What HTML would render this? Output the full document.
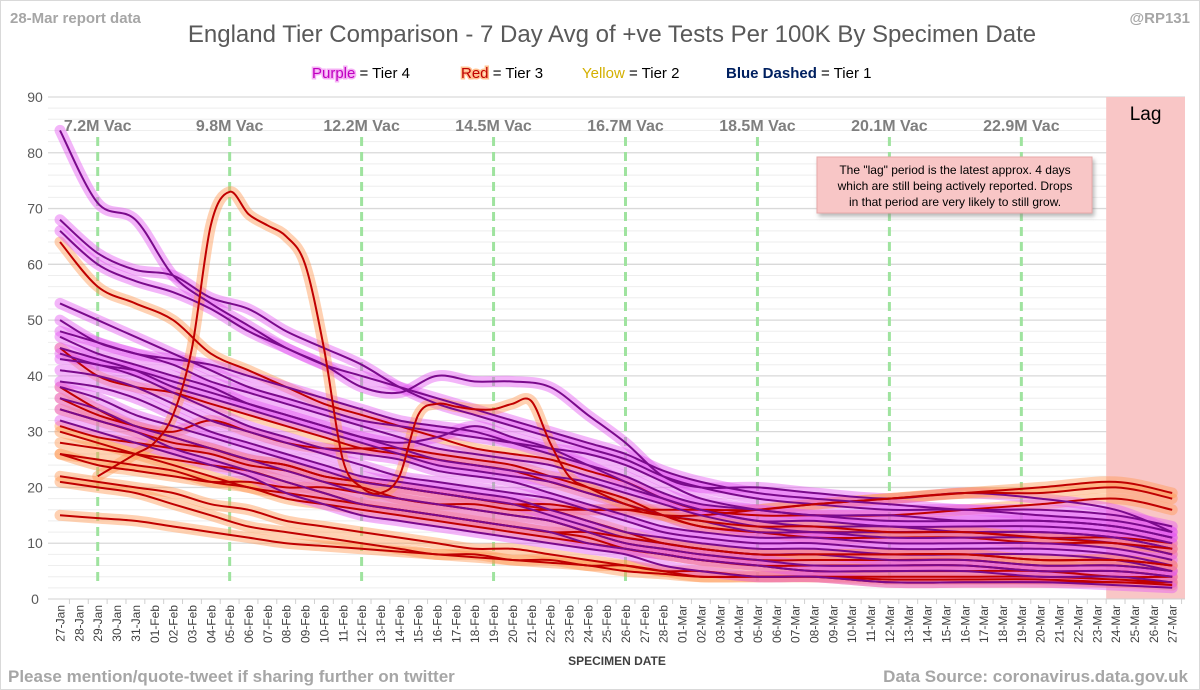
<!DOCTYPE html>
<html><head><meta charset="utf-8"><style>
html,body{margin:0;padding:0;background:#fff;}
svg{display:block;font-family:"Liberation Sans",sans-serif;}
</style></head><body>
<svg id="chart" width="1200" height="690" viewBox="0 0 1200 690" xmlns="http://www.w3.org/2000/svg">
<defs>
<filter id="sh" x="-10%" y="-10%" width="130%" height="140%"><feDropShadow dx="2" dy="3" stdDeviation="2" flood-color="#888" flood-opacity="0.6"/></filter>
</defs>
<rect x="0.5" y="0.5" width="1199" height="689" fill="#fff" stroke="#d9d9d9"/>
<text x="10" y="23" font-size="15" font-weight="bold" fill="#a6a6a6">28-Mar report data</text>
<text x="1190" y="23" font-size="15" font-weight="bold" fill="#a6a6a6" text-anchor="end">@RP131</text>
<text x="612" y="42" font-size="24" fill="#595959" text-anchor="middle">England Tier Comparison - 7 Day Avg of +ve Tests Per 100K By Specimen Date</text>
<g id="legend" font-size="15">
<text x="312" y="78"><tspan fill="#c000c0" style="paint-order:stroke" stroke="#f5b0f5" stroke-width="3">Purple</tspan><tspan fill="#000"> = Tier 4</tspan></text>
<text x="461" y="78"><tspan fill="#c00000" style="paint-order:stroke" stroke="#ffc090" stroke-width="3">Red</tspan><tspan fill="#000"> = Tier 3</tspan></text>
<text x="582" y="78"><tspan fill="#d4b000">Yellow</tspan><tspan fill="#000"> = Tier 2</tspan></text>
<text x="726" y="78"><tspan fill="#002060" font-weight="bold">Blue Dashed</tspan><tspan fill="#000"> = Tier 1</tspan></text>
</g>
<g id="grid"></g>
<g id="lag"></g>
<g id="vac"></g>
<g id="glow"></g>
<g id="lines"></g>
<g id="yaxis"></g>
<g id="xaxis"></g>
<g font-size="12" fill="#000" text-anchor="middle">
<rect x="817" y="157" width="275" height="56" fill="#f8c6c6" stroke="#e8a8a8" filter="url(#sh)"/>
<text x="955" y="174">The "lag" period is the latest approx. 4 days</text>
<text x="955" y="190">which are still being actively reported. Drops</text>
<text x="955" y="206">in that period are very likely to still grow.</text>
</g>
<text x="617" y="665" font-size="12" font-weight="bold" fill="#404040" text-anchor="middle">SPECIMEN DATE</text>
<text x="8" y="682" font-size="17" font-weight="bold" fill="#a6a6a6">Please mention/quote-tweet if sharing further on twitter</text>
<text x="1188" y="682" font-size="17" font-weight="bold" fill="#a6a6a6" text-anchor="end">Data Source: coronavirus.data.gov.uk</text>
</svg>
<script>
const dateLabels = ["27-Jan","28-Jan","29-Jan","30-Jan","31-Jan","01-Feb","02-Feb","03-Feb","04-Feb","05-Feb","06-Feb","07-Feb","08-Feb","09-Feb","10-Feb","11-Feb","12-Feb","13-Feb","14-Feb","15-Feb","16-Feb","17-Feb","18-Feb","19-Feb","20-Feb","21-Feb","22-Feb","23-Feb","24-Feb","25-Feb","26-Feb","27-Feb","28-Feb","01-Mar","02-Mar","03-Mar","04-Mar","05-Mar","06-Mar","07-Mar","08-Mar","09-Mar","10-Mar","11-Mar","12-Mar","13-Mar","14-Mar","15-Mar","16-Mar","17-Mar","18-Mar","19-Mar","20-Mar","21-Mar","22-Mar","23-Mar","24-Mar","25-Mar","26-Mar","27-Mar"];
const yTicks = [0,10,20,30,40,50,60,70,80,90];
const vacDays = [2,9,16,23,30,37,44,51];
const vacLabels = ["7.2M Vac","9.8M Vac","12.2M Vac","14.5M Vac","16.7M Vac","18.5M Vac","20.1M Vac","22.9M Vac"];
const lagStartDay = 55.5;
const sampleDays = [0,2,4,6,8,10,12,14,16,18,20,22,24,26,28,30,32,34,37,40,44,48,52,56,59];
const purpleSeries = [
[84,71,68,58,53,49,45,42,38,37,40,39,39,38,33,28,22,20,20,19,18,19,18,16,12],
[68,62,59,58,54,52,48,45,42,38,35,33,31,29,27,25,22,20,18,17,16,16,15,14,12],
[66,60,57,55,52,48,45,42,40,38,36,34,32,30,28,26,23,21,19,18,17,16,16,15,13],
[53,50,47,44,41,38,36,34,32,31,30,29,28,27,26,24,21,18,16,15,14,14,14,13,11],
[50,46,44,42,39,37,35,33,31,29,27,26,25,24,22,20,18,16,14,14,13,13,13,12,10],
[47,44,42,40,38,35,33,31,29,27,25,24,23,22,21,19,17,15,13,12,12,12,12,11,9],
[45,43,41,38,36,34,32,30,28,26,24,23,22,21,19,17,15,14,12,12,11,11,11,10,8],
[43,42,40,37,34,31,29,27,26,25,23,22,21,19,17,15,13,12,11,11,10,10,10,9,7],
[41,40,38,35,32,30,28,26,24,22,21,20,19,18,16,14,12,11,10,10,9,9,9,8,6],
[39,38,36,33,30,28,26,24,22,21,20,19,18,16,14,12,11,10,9,9,8,8,8,7,5],
[38,36,33,31,29,27,25,23,21,20,19,18,17,15,13,11,10,9,8,8,7,7,6,6,5],
[36,34,31,29,27,25,23,21,19,18,17,16,15,14,12,10,9,8,7,6,6,6,5,5,4],
[34,32,30,27,25,23,21,19,17,16,15,14,13,12,10,9,8,7,6,5,5,5,4,4,3],
[32,30,28,26,24,22,19,17,15,14,13,12,11,10,9,8,6,5,4,4,3,3,3,2.5,2],
[44,42,41,39,37,35,33,31,29,28,29,31,29,27,24,21,18,16,14,13,13,12,12,11,9],
[48,46,44,43,42,40,38,36,34,32,31,30,28,26,24,22,19,17,16,15,15,14,14,13,11]
];
const redSeries = [
[64,56,53,50,44,41,38,35,33,31,29,27,26,25,23,21,18,16,15,15,15,16,17,18,16],
[26,24,23,22,21,21,20,20,19,18,17,17,16,16,16,16,16,16,16,17,18,19,19,20,18],
[36,33,31,29,27,25,24,22,21,20,19,18,17,17,16,16,15,15,16,17,18,19,20,21,19],
[45,40,38,37,35,33,31,29,27,26,25,24,23,21,19,17,15,13,12,12,12,12,11,11,10],
[38,34,31,30,32,30,28,27,27,27,26,25,24,22,20,18,15,13,12,11,11,11,10,10,8],
[34,32,30,28,27,25,24,22,21,20,19,18,17,16,14,12,10,9,8,8,8,8,7,7,6],
[31,29,28,27,26,24,23,21,20,18,17,16,15,14,12,10,9,8,7,7,7,7,6,6,5],
[28,27,26,25,24,23,21,19,17,16,15,14,13,12,11,9,8,7,6,6,6,6,5,5,4],
[26,25,24,23,21,20,18,17,16,15,14,13,12,11,10,9,8,7,6,5,5,5,5,4,4],
[22,21,20,19,17,16,14,13,12,11,10,9,9,8,7,6,5,5,4,4,4,4,4,3.5,3],
[21,20,19,17,15,13,12,11,10,9,8,8,7,7,6,6,5,4,4,4,3,3,3,3,2.5],
[30,28,26,24,22,20,19,18,17,16,15,14,13,12,12,11,10,9,8,8,8,8,7,7,6],
[15,14.5,14,13,12,11,10,9.5,9,8.5,8,7.5,7,6.5,6,5,4.5,4,4,4,3.5,3.5,3.5,3,3]
];
const spikeDays = [2,3,4,5,6,7,8,9,10,11,12,13,14,15,16,17,18,19,20,21,22,23,24,25,26,27,28,30,32,34,37,40,44,48,52,56,59];
const spikeValues = [22,24,26,28,33,45,67,73,69,67,65,60,45,25,20,19,22,33,35,34.5,34,34,35,35.5,28,22,20,17,15,14,13,13,12,12,11,10,9];

const NS = "http://www.w3.org/2000/svg";
const X0 = 60, DX = 18.85, Y0 = 599, YS = 5.578;
function xPos(d){ return X0 + d*DX; }
function yPos(v){ return Y0 - v*YS; }
function mk(tag, attrs, parent){ const e=document.createElementNS(NS,tag); for(const k in attrs) e.setAttribute(k,attrs[k]); parent.appendChild(e); return e; }

const grid = document.getElementById('grid');
for (let v=2; v<=90; v+=2){
  const gl = mk('line',{x1:48,x2:1185,y1:yPos(v),y2:yPos(v),stroke:(v%10===0)?'#d9d9d9':'#eeeeee','stroke-width':(v%10===0)?1.3:1},grid);
  
  
}

const lagG = document.getElementById('lag');
const lagRect = mk('rect',{x:xPos(lagStartDay),y:yPos(90),width:1185-xPos(lagStartDay),height:yPos(0)-yPos(90),fill:'#f9c6c6'},lagG);


const lagT = mk('text',{x:(xPos(lagStartDay)+1185)/2,y:120,'font-size':19,'text-anchor':'middle',fill:'#000'},lagG);
lagT.textContent='Lag';



const vacG = document.getElementById('vac');
vacDays.forEach((d,i)=>{
  const l = mk('line',{x1:xPos(d),x2:xPos(d),y1:137,y2:583,stroke:'#9fe39f','stroke-width':3,'stroke-dasharray':'9 6'},vacG);
  
  
  const t = mk('text',{x:xPos(d),y:131,'font-size':16,'font-weight':'bold',fill:'#7f7f7f','text-anchor':'middle'},vacG);
  t.textContent = vacLabels[i];
  
  
});

function pathFor(days, vals){
  const pts = vals.map((v,i)=>[xPos(days[i]), yPos(v)]);
  let d = 'M'+pts[0][0].toFixed(1)+','+pts[0][1].toFixed(1);
  for (let i=0;i<pts.length-1;i++){
    const p0=pts[Math.max(0,i-1)], p1=pts[i], p2=pts[i+1], p3=pts[Math.min(pts.length-1,i+2)];
    const c1=[p1[0]+(p2[0]-p0[0])/6, p1[1]+(p2[1]-p0[1])/6];
    const c2=[p2[0]-(p3[0]-p1[0])/6, p2[1]-(p3[1]-p1[1])/6];
    d += ' C'+c1[0].toFixed(1)+','+c1[1].toFixed(1)+' '+c2[0].toFixed(1)+','+c2[1].toFixed(1)+' '+p2[0].toFixed(1)+','+p2[1].toFixed(1);
  }
  return d;
}
const glowG = document.getElementById('glow'), linesG = document.getElementById('lines');
const all = [];
const n = Math.max(purpleSeries.length, redSeries.length);
for (let i=0;i<n;i++){
  if (i<redSeries.length) all.push(['red',sampleDays,redSeries[i],i]);
  if (i<purpleSeries.length) all.push(['purple',sampleDays,purpleSeries[i],i]);
}
all.push(['red',spikeDays,spikeValues,99]);
all.forEach(([kind,days,vals,i])=>{
  const d = pathFor(days, vals);
  const g = mk('path',{d:d,fill:'none',stroke:kind==='purple'?'#e55cf2':'#ff9a55','stroke-width':11,'stroke-opacity':0.45,'stroke-linejoin':'round','stroke-linecap':'round'},glowG);
  
  
  const p = mk('path',{d:d,fill:'none',stroke:kind==='purple'?'#7a0a8c':'#c00000','stroke-width':2,'stroke-linejoin':'round'},linesG);
  
  
});

const yG = document.getElementById('yaxis');
yTicks.forEach(v=>{
  const t = mk('text',{x:35,y:yPos(v)+5,'font-size':14,fill:'#595959','text-anchor':'middle'},yG);
  t.textContent = v;
  
  
});
const xG = document.getElementById('xaxis');
const ax = mk('line',{x1:48,x2:1185,y1:Y0,y2:Y0,stroke:'#d0d0d0','stroke-width':1},xG);


dateLabels.forEach((lab,i)=>{
  const x = xPos(i);
  const tk = mk('line',{x1:x+DX/2,x2:x+DX/2,y1:Y0,y2:Y0+5,stroke:'#d0d0d0'},xG);
  
  
  const t = mk('text',{x:0,y:0,'font-size':12,fill:'#404040','text-anchor':'end',transform:'translate('+(x+4.5)+','+(Y0+6)+') rotate(-90)'},xG);
  t.textContent = lab;
  
  
});
</script>
</body></html>
